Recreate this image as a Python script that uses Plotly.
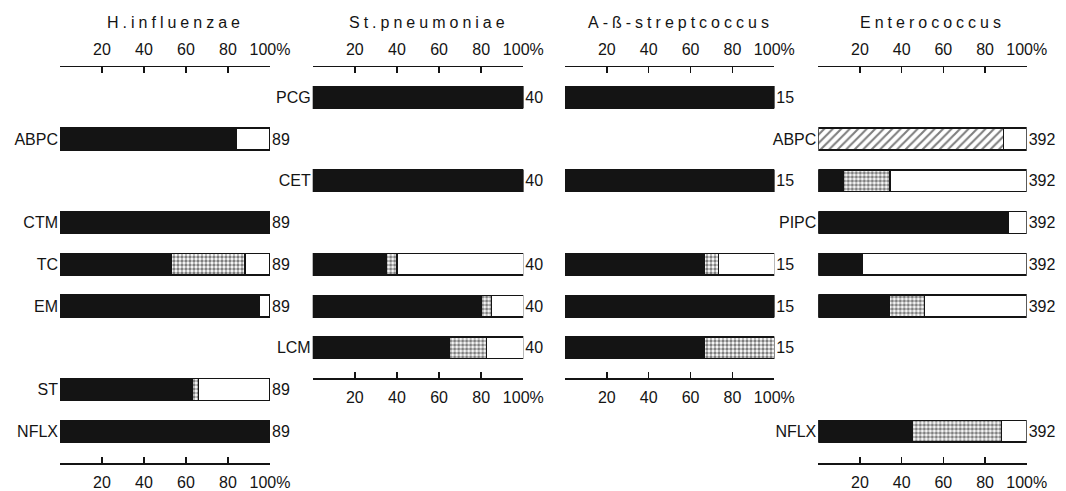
import plotly.graph_objects as go

# ---------------- data ----------------
rows = ["PCG", "ABPC", "CET", "CTM", "TC", "EM", "LCM", "ST", "NFLX"]

titles = ["H.influenzae", "St.pneumoniae", "A-ß-streptcoccus", "Enterococcus"]
counts = [89, 40, 15, 392]

# percent sensitive (black), hatched, intermediate (stippled), resistant (white)
hinf_S = [None, 84, None, 99, 53, 95, None, 63, 100]
hinf_H = [None] * 9
hinf_I = [None, 0, None, 0, 35, 0, None, 3, 0]
hinf_R = [None, 16, None, 1, 12, 5, None, 34, 0]

spn_S = [100, None, 100, None, 35, 80, 65, None, None]
spn_H = [None] * 9
spn_I = [0, None, 0, None, 5, 5, 17.5, None, None]
spn_R = [0, None, 0, None, 60, 15, 17.5, None, None]

strep_S = [100, None, 100, None, 66.7, 100, 66.7, None, None]
strep_H = [None] * 9
strep_I = [0, None, 0, None, 6.7, 0, 33.3, None, None]
strep_R = [0, None, 0, None, 26.6, 0, 0, None, None]

ent_S = [None, None, 12, 91, 21, 34, None, None, 45]
ent_H = [None, 89, None, None, None, None, None, None, None]
ent_I = [None, 0, 22.5, 0, 0, 17, None, None, 43]
ent_R = [None, 11, 65.5, 9, 79, 49, None, None, 12]

labels_hinf = ["", "ABPC", "", "CTM", "TC", "EM", "", "ST", "NFLX"]
labels_spn = ["PCG", "", "CET", "", "", "", "LCM", "", ""]
labels_strep = [""] * 9
labels_ent = ["", "ABPC", "", "PIPC", "", "", "", "", "NFLX"]

tick_vals = [0, 20, 40, 60, 80, 100]
tick_text = ["", "20", "40", "60", "80", "100%"]

# ---------------- layout geometry ----------------
W, H = 1066, 491
top_px = 67
row0_px = 97.3
row_px = 41.75
panel_x = [(60, 270), (312.7, 523.3), (565, 774.3), (818.3, 1026.7)]
panel_bottom = [463, 378, 378, 463]

series = [
    (hinf_S, hinf_H, hinf_I, hinf_R, labels_hinf),
    (spn_S, spn_H, spn_I, spn_R, labels_spn),
    (strep_S, strep_H, strep_I, strep_R, labels_strep),
    (ent_S, ent_H, ent_I, ent_R, labels_ent),
]

INK = "#141414"
FONT = "Liberation Sans"
fig = go.Figure()
line = dict(color=INK, width=1.4)
bw = 0.52

layout = dict(
    width=W, height=H, margin=dict(l=0, r=0, t=0, b=0, autoexpand=False),
    paper_bgcolor="white", plot_bgcolor="white",
    barmode="stack", showlegend=False,
    font=dict(family=FONT, size=16, color=INK),
)
annotations = []

for p, (S, Hh, I, R, labs) in enumerate(series):
    xa = "x" if p == 0 else f"x{p+1}"
    ya = "y" if p == 0 else f"y{p+1}"
    idx = list(range(len(rows)))
    common = dict(orientation="h", y=idx, xaxis=xa, yaxis=ya, width=bw,
                  hoverinfo="skip")
    fig.add_trace(go.Bar(x=S, marker=dict(color=INK, line=line), **common))
    fig.add_trace(go.Bar(x=Hh, marker=dict(color="white", line=line,
                  pattern=dict(shape="/", fgcolor="#000000", bgcolor="white",
                               size=6, solidity=0.35)), **common))
    fig.add_trace(go.Bar(x=I, marker=dict(color="white", line=line,
                  pattern=dict(shape=".", fgcolor="#000000", bgcolor="white",
                               size=4, solidity=0.55)), **common))
    fig.add_trace(go.Bar(x=R, marker=dict(color="white", line=line), **common))

    present = [i for i in idx if R[i] is not None]

    x0, x1 = panel_x[p]
    yb = panel_bottom[p]
    dom_x = [x0 / W, x1 / W]
    dom_y = [1 - yb / H, 1 - top_px / H]
    r_top = -(row0_px - top_px) / row_px
    r_bot = (yb - row0_px) / row_px

    axis_common = dict(
        range=[0, 100], tickvals=tick_vals, ticktext=tick_text,
        showline=True, linecolor=INK, linewidth=1.5,
        ticks="inside", ticklen=6, tickwidth=1.5, tickcolor=INK,
        showgrid=False, zeroline=False, fixedrange=True,
        tickfont=dict(size=16, family=FONT, color=INK),
        ticklabelstandoff=4, automargin=False,
    )
    key = "xaxis" if p == 0 else f"xaxis{p+1}"
    layout[key] = dict(domain=dom_x, anchor=ya, side="bottom", **axis_common)
    top_key = f"xaxis{p+5}"
    layout[top_key] = dict(domain=dom_x, anchor=ya, side="top",
                           overlaying=xa, matches=xa, **axis_common)

    ykey = "yaxis" if p == 0 else f"yaxis{p+1}"
    tv = [i for i in idx if labs[i]]
    y_common = dict(
        domain=dom_y, range=[r_bot, r_top],
        showline=False, showgrid=False, zeroline=False, ticks="",
        fixedrange=True, automargin=False,
        tickfont=dict(size=16, family=FONT, color=INK),
    )
    layout[ykey] = dict(anchor=xa, tickvals=tv,
                        ticktext=[labs[i] for i in tv],
                        ticklabelstandoff=1, **y_common)
    # right-hand axis carrying the sample counts
    rkey = f"yaxis{p+9}"
    layout[rkey] = dict(anchor=xa, side="right", overlaying=ya,
                        tickvals=present,
                        ticktext=[str(counts[p])] * len(present),
                        ticklabelstandoff=1, **y_common)
    fig.add_trace(go.Scatter(x=[None], y=[None], xaxis=xa, yaxis=f"y{p+9}",
                             hoverinfo="skip"))

    annotations.append(dict(
        text=f'<span style="letter-spacing:4px">{titles[p]}</span>',
        xref=f"{xa} domain", yref="paper", x=0.55, y=1 - 22 / H,
        showarrow=False, font=dict(size=16, family=FONT, color=INK),
        xanchor="center", yanchor="middle"))

# dummy traces so top overlay axes are rendered
for p in range(4):
    ya = "y" if p == 0 else f"y{p+1}"
    fig.add_trace(go.Scatter(x=[None], y=[None], xaxis=f"x{p+5}", yaxis=ya,
                             hoverinfo="skip"))

layout["annotations"] = annotations
fig.update_layout(**layout)
fig.write_html(
    "out.html",
    config={"displayModeBar": False, "staticPlot": True},
    post_script="document.body.style.margin='0';"
                "document.body.style.overflow='hidden';",
)
